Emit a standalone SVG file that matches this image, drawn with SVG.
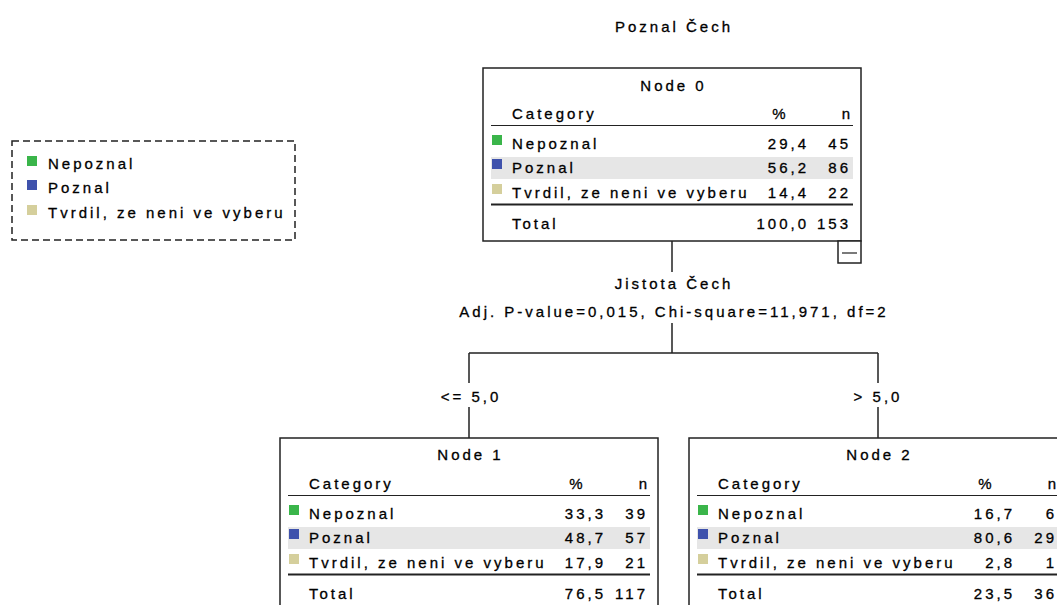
<svg xmlns="http://www.w3.org/2000/svg" width="1057" height="605" viewBox="0 0 1057 605">
  <style>
    .t { font-family: "Liberation Sans", Arial, sans-serif; font-size: 15px; letter-spacing: 3px; fill: #000000; stroke: #000000; stroke-width: 0.3; }
    .m { text-anchor: middle; }
    .e { text-anchor: end; }
    .box { fill: #ffffff; stroke: #222222; stroke-width: 1.5; }
    .rule { stroke: #222222; stroke-width: 1.2; fill: none; }
    .rule2 { stroke: #222222; stroke-width: 2.2; fill: none; }
    .band { fill: #e6e6e6; }
    .c0 { fill: #3ab54a; }
    .c1 { fill: #3f52ac; }
    .c2 { fill: #d5cf9c; }
    .edge { stroke: #222222; stroke-width: 1.5; fill: none; }
    .legend { fill: #ffffff; stroke: #222222; stroke-width: 1.5; stroke-dasharray: 7 4; }
  </style>

  <!-- tree title -->
  <text class="t m" x="674" y="32">Poznal Čech</text>

  <!-- legend -->
  <g id="legend">
    <rect class="legend" x="12" y="141" width="283" height="99"/>
    <rect class="c0" x="27" y="156" width="10" height="10"/>
    <rect class="c1" x="27" y="180" width="10" height="10"/>
    <rect class="c2" x="27" y="205" width="10" height="10"/>
    <text class="t" x="48" y="169">Nepoznal</text>
    <text class="t" x="48" y="193">Poznal</text>
    <text class="t" x="48" y="218">Tvrdil, ze neni ve vyberu</text>
  </g>

  <!-- connectors and split labels -->
  <g id="connectors">
    <path class="edge" d="M672,241 V272"/>
    <text class="t m" x="674" y="289">Jistota Čech</text>
    <text class="t m" x="674" y="317">Adj. P-value=0,015, Chi-square=11,971, df=2</text>
    <path class="edge" d="M672,323 V353 M469,353 H878"/>
    <path class="edge" d="M469,353 V383 M469,407 V438"/>
    <text class="t m" x="471" y="402">&lt;= 5,0</text>
    <path class="edge" d="M878,353 V383 M878,407 V438"/>
    <text class="t m" x="878" y="402">&gt; 5,0</text>
  </g>

  <!-- Node 0 -->
  <g id="node0" transform="translate(483,68)">
    <rect class="box" x="0" y="0" width="378" height="173"/>
    <text class="t m" x="190.5" y="23">Node 0</text>
    <text class="t" x="29" y="51">Category</text>
    <text class="t m" x="297.5" y="51">%</text>
    <text class="t e" x="370" y="51">n</text>
    <path class="rule" d="M8,57.5 H370"/>
    <rect class="band" x="8" y="89" width="362" height="22"/>
    <rect class="c0" x="9" y="67" width="10" height="10"/>
    <rect class="c1" x="9" y="91" width="10" height="10"/>
    <rect class="c2" x="9" y="116" width="10" height="10"/>
    <text class="t" x="29" y="81">Nepoznal</text>
    <text class="t e" x="326" y="81">29,4</text>
    <text class="t e" x="368" y="81">45</text>
    <text class="t" x="29" y="105">Poznal</text>
    <text class="t e" x="326" y="105">56,2</text>
    <text class="t e" x="368" y="105">86</text>
    <text class="t" x="29" y="130">Tvrdil, ze neni ve vyberu</text>
    <text class="t e" x="326" y="130">14,4</text>
    <text class="t e" x="368" y="130">22</text>
    <path class="rule2" d="M8,136.5 H370"/>
    <text class="t" x="29" y="161">Total</text>
    <text class="t e" x="326" y="161">100,0</text>
    <text class="t e" x="368" y="161">153</text>
    <!-- collapse toggle -->
    <rect class="box" x="355" y="173" width="23" height="22"/>
    <path class="rule" d="M359,185 H374"/>
  </g>

  <!-- Node 1 -->
  <g id="node1" transform="translate(280,438)">
    <rect class="box" x="0" y="0" width="378" height="200"/>
    <text class="t m" x="190.5" y="22">Node 1</text>
    <text class="t" x="29" y="51">Category</text>
    <text class="t m" x="297.5" y="51">%</text>
    <text class="t e" x="370" y="51">n</text>
    <path class="rule" d="M8,57.5 H370"/>
    <rect class="band" x="8" y="89" width="362" height="22"/>
    <rect class="c0" x="9" y="67" width="10" height="10"/>
    <rect class="c1" x="9" y="91" width="10" height="10"/>
    <rect class="c2" x="9" y="116" width="10" height="10"/>
    <text class="t" x="29" y="81">Nepoznal</text>
    <text class="t e" x="326" y="81">33,3</text>
    <text class="t e" x="368" y="81">39</text>
    <text class="t" x="29" y="105">Poznal</text>
    <text class="t e" x="326" y="105">48,7</text>
    <text class="t e" x="368" y="105">57</text>
    <text class="t" x="29" y="130">Tvrdil, ze neni ve vyberu</text>
    <text class="t e" x="326" y="130">17,9</text>
    <text class="t e" x="368" y="130">21</text>
    <path class="rule2" d="M8,136.5 H370"/>
    <text class="t" x="29" y="161">Total</text>
    <text class="t e" x="326" y="161">76,5</text>
    <text class="t e" x="368" y="161">117</text>
  </g>

  <!-- Node 2 -->
  <g id="node2" transform="translate(689,438)">
    <rect class="box" x="0" y="0" width="378" height="200"/>
    <text class="t m" x="190.5" y="22">Node 2</text>
    <text class="t" x="29" y="51">Category</text>
    <text class="t m" x="297.5" y="51">%</text>
    <text class="t e" x="370" y="51">n</text>
    <path class="rule" d="M8,57.5 H370"/>
    <rect class="band" x="8" y="89" width="362" height="22"/>
    <rect class="c0" x="9" y="67" width="10" height="10"/>
    <rect class="c1" x="9" y="91" width="10" height="10"/>
    <rect class="c2" x="9" y="116" width="10" height="10"/>
    <text class="t" x="29" y="81">Nepoznal</text>
    <text class="t e" x="326" y="81">16,7</text>
    <text class="t e" x="368" y="81">6</text>
    <text class="t" x="29" y="105">Poznal</text>
    <text class="t e" x="326" y="105">80,6</text>
    <text class="t e" x="368" y="105">29</text>
    <text class="t" x="29" y="130">Tvrdil, ze neni ve vyberu</text>
    <text class="t e" x="326" y="130">2,8</text>
    <text class="t e" x="368" y="130">1</text>
    <path class="rule2" d="M8,136.5 H370"/>
    <text class="t" x="29" y="161">Total</text>
    <text class="t e" x="326" y="161">23,5</text>
    <text class="t e" x="368" y="161">36</text>
  </g>
</svg>
